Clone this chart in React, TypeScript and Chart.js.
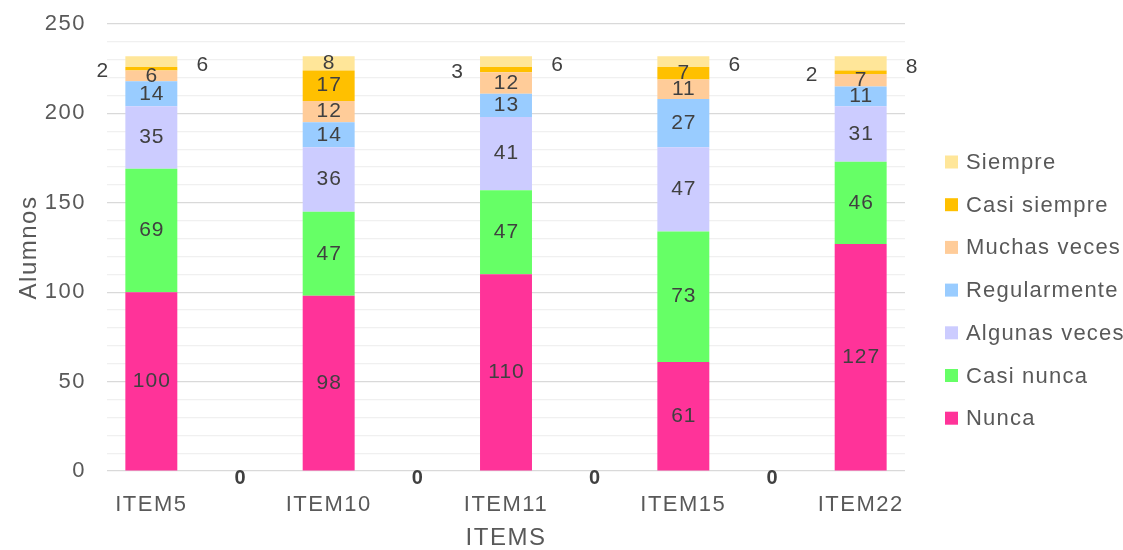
import React, { useEffect, useRef } from 'react';
import { Chart, registerables } from 'chart.js';

Chart.register(...registerables);

// Categories along the x axis (blank slots separate the items)
const categories = ['ITEM5', '', 'ITEM10', '', 'ITEM11', '', 'ITEM15', '', 'ITEM22'];

// Number of students per answer, stacked bottom to top
const nunca = [100, 0, 98, 0, 110, 0, 61, 0, 127];
const casiNunca = [69, null, 47, null, 47, null, 73, null, 46];
const algunasVeces = [35, null, 36, null, 41, null, 47, null, 31];
const regularmente = [14, null, 14, null, 13, null, 27, null, 11];
const muchasVeces = [6, null, 12, null, 12, null, 11, null, 7];
const casiSiempre = [2, null, 17, null, 3, null, 7, null, 2];
const siempre = [6, null, 8, null, 6, null, 6, null, 8];

const seriesNames = ['Nunca', 'Casi nunca', 'Algunas veces', 'Regularmente', 'Muchas veces', 'Casi siempre', 'Siempre'];
const seriesValues = [nunca, casiNunca, algunasVeces, regularmente, muchasVeces, casiSiempre, siempre];
const seriesColors = ['#FF3399', '#66FF66', '#CCCCFF', '#99CCFF', '#FFCC99', '#FFC000', '#FFE699'];

// Value labels drawn beside the bar instead of inside: [series, category, side]
const sideLabels: [number, number, 'left' | 'right'][] = [
  [5, 0, 'left'], [6, 0, 'right'],
  [5, 4, 'left'], [6, 4, 'right'],
  [6, 6, 'right'],
  [5, 8, 'left'], [6, 8, 'right'],
];

const FONT = '"Liberation Sans", Arial, sans-serif';

// Slightly spaced lettering for the axis texts
const spacingPlugin = {
  id: 'letterSpacing',
  beforeLayout(chart: any) { chart.ctx.letterSpacing = '1.5px'; },
  beforeDraw(chart: any) { chart.ctx.letterSpacing = '1.5px'; },
};

const valueLabelPlugin = {
  id: 'valueLabels',
  afterDatasetsDraw(chart: any) {
    const ctx = chart.ctx;
    ctx.save();
    ctx.textAlign = 'center';
    ctx.textBaseline = 'middle';
    ctx.fillStyle = '#404040';
    chart.data.datasets.forEach((ds: any, di: number) => {
      const meta = chart.getDatasetMeta(di);
      meta.data.forEach((el: any, i: number) => {
        const v = ds.data[i];
        if (v === null || v === undefined) return;
        const { x, y, base, width } = el.getProps(['x', 'y', 'base', 'width'], true);
        if (v === 0) {
          ctx.letterSpacing = '0px';
          ctx.font = `bold 20px ${FONT}`;
          ctx.fillText('0', x, base + 7);
          return;
        }
        ctx.letterSpacing = '1px';
        ctx.font = `21px ${FONT}`;
        const side = sideLabels.find((s) => s[0] === di && s[1] === i);
        let lx = x;
        let ly = (y + base) / 2;
        if (side) {
          if (side[2] === 'left') {
            lx = x - width / 2 - 23;
            ly += 3;
          } else {
            lx = x + width / 2 + 25;
            ly += 4;
          }
        }
        ctx.fillText(String(v), lx + 0.5, ly);
      });
    });
    ctx.restore();
  },
};

const legendPlugin = {
  id: 'sideLegend',
  afterDraw(chart: any) {
    const ctx = chart.ctx;
    const area = chart.chartArea;
    ctx.save();
    ctx.letterSpacing = '1.2px';
    ctx.font = `22px ${FONT}`;
    ctx.textAlign = 'left';
    ctx.textBaseline = 'middle';
    const order = [6, 5, 4, 3, 2, 1, 0];
    order.forEach((si, row) => {
      const cy = area.top + 138 + row * 42.7;
      ctx.fillStyle = seriesColors[si];
      ctx.fillRect(area.right + 40, cy - 6.5, 13, 13);
      ctx.fillStyle = '#595959';
      ctx.fillText(seriesNames[si], area.right + 61, cy + 1);
    });
    ctx.restore();
  },
};

export default function App() {
  const canvasRef = useRef<HTMLCanvasElement | null>(null);

  useEffect(() => {
    if (!canvasRef.current) return;
    const chart = new Chart(canvasRef.current, {
      type: 'bar',
      data: {
        labels: categories,
        datasets: seriesValues.map((vals, i) => ({
          label: seriesNames[i],
          data: vals,
          backgroundColor: seriesColors[i],
          borderWidth: 0,
          barPercentage: 0.586,
          categoryPercentage: 1,
        })),
      },
      options: {
        responsive: false,
        animation: false,
        layout: { padding: { top: 24, right: 218, left: 0, bottom: 0 } },
        plugins: {
          legend: { display: false },
          tooltip: { enabled: false },
        },
        scales: {
          x: {
            stacked: true,
            grid: { display: false },
            border: { display: false },
            ticks: {
              color: '#595959',
              font: { family: FONT, size: 22 },
              padding: 13,
              autoSkip: false,
              maxRotation: 0,
            },
            title: {
              display: true,
              text: 'ITEMS',
              color: '#595959',
              font: { family: FONT, size: 24, lineHeight: 1 },
              padding: { top: 0, bottom: 0 },
            },
            afterFit(scale: any) { scale.height = 79; },
          },
          y: {
            stacked: true,
            min: 0,
            max: 250,
            grid: {
              drawTicks: false,
              color: (c: any) => (c.tick && c.tick.value % 50 === 0 ? '#D9D9D9' : '#F0F0F0'),
              lineWidth: 1.2,
            },
            border: { display: false },
            ticks: {
              stepSize: 10,
              autoSkip: false,
              color: '#595959',
              font: { family: FONT, size: 22 },
              padding: 21,
              callback: (v: any) => (Number(v) % 50 === 0 ? String(v) : ''),
            },
            title: {
              display: true,
              text: 'Alumnos',
              color: '#595959',
              font: { family: FONT, size: 24 },
              padding: { top: 15, bottom: 0 },
            },
            afterFit(scale: any) {
              scale.width = 107;
              scale.paddingTop = 10;
              scale.paddingBottom = 10;
            },
          },
        },
      },
      plugins: [spacingPlugin, valueLabelPlugin, legendPlugin],
    });
    return () => chart.destroy();
  }, []);

  return (
    <div style={{ position: 'fixed', left: 0, top: 0, width: 1123, height: 550, background: '#fff' }}>
      <canvas ref={canvasRef} width={1123} height={550} style={{ display: 'block' }} />
    </div>
  );
}
